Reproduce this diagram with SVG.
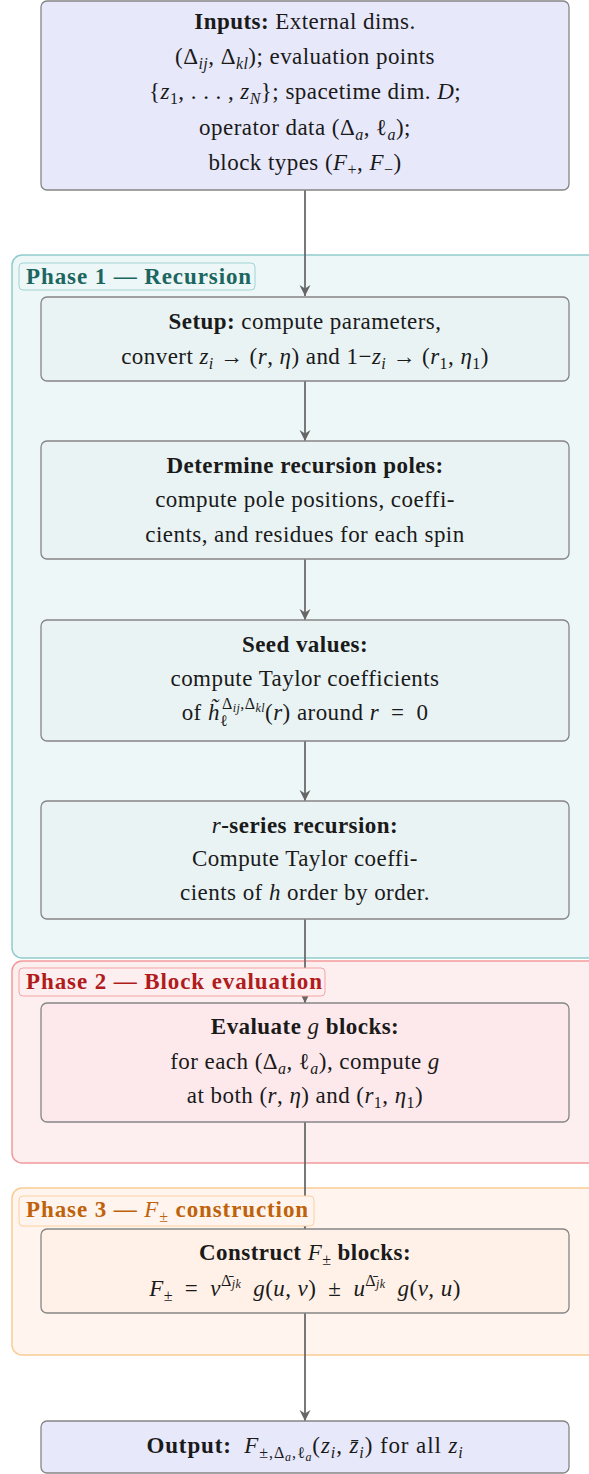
<svg xmlns="http://www.w3.org/2000/svg" width="589" height="1474" viewBox="0 0 589 1474" font-family="Liberation Serif, DejaVu Serif, serif">
<defs>
<marker id="ah" markerUnits="userSpaceOnUse" markerWidth="12" markerHeight="12" refX="11" refY="6" orient="auto">
<path d="M0,0.5 L11,6 L0,11.5 L3.5,6 z" fill="#666"/>
</marker>
<style>
text{font-family:'Liberation Serif','DejaVu Serif',serif;font-size:23px;fill:#1a1a1a;text-anchor:middle;letter-spacing:0.45px}
.b{font-weight:bold}
.i{font-style:italic}
.s{font-size:16px;font-style:italic}
.su{font-size:16px}
.ss{font-size:12px;font-style:italic}
.node{stroke:#858585;stroke-width:1.3}
.io{fill:#e8e8fb}
.p1n{fill:#e9f3f4}
.p2n{fill:#fde9ec}
.p3n{fill:#fff1e7}
.conn{stroke:#6a6a6a;stroke-width:1.8;fill:none}
.lab{font-size:23px;font-weight:bold;text-anchor:start;letter-spacing:0.9px}
</style>
</defs>

<g id="phase1">
<rect x="12" y="255" width="600" height="703" rx="10" fill="#eef7f7" stroke="#90cbcb" stroke-width="1.5"/>
</g>
<g id="phase2">
<rect x="12" y="961" width="600" height="202" rx="10" fill="#fdeef0" stroke="#f29a9a" stroke-width="1.5"/>
</g>
<g id="phase3">
<rect x="12" y="1188" width="600" height="167" rx="10" fill="#fff5ee" stroke="#f9cc94" stroke-width="1.5"/>
</g>

<g id="connectors">
<line class="conn" x1="305" y1="190" x2="305" y2="296" marker-end="url(#ah)"/>
<line class="conn" x1="305" y1="381" x2="305" y2="441" marker-end="url(#ah)"/>
<line class="conn" x1="305" y1="559" x2="305" y2="620" marker-end="url(#ah)"/>
<line class="conn" x1="305" y1="741" x2="305" y2="801" marker-end="url(#ah)"/>
<line class="conn" x1="305" y1="919" x2="305" y2="1003" marker-end="url(#ah)"/>
<line class="conn" x1="305" y1="1122" x2="305" y2="1229" marker-end="url(#ah)"/>
<line class="conn" x1="305" y1="1313" x2="305" y2="1421" marker-end="url(#ah)"/>
</g>

<g id="phase1-label">
<rect x="19" y="263" width="236" height="27" rx="4" fill="#eef7f7" stroke="#9fd4d4" stroke-width="1"/>
<text class="lab" x="26" y="284" style="fill:#1b6660">Phase 1 — Recursion</text>
</g>
<g id="phase2-label">
<rect x="19" y="968" width="306" height="28" rx="4" fill="#fdeef0" stroke="#f5a5a5" stroke-width="1"/>
<text class="lab" x="26" y="989" style="fill:#b01c1c">Phase 2 — Block evaluation</text>
</g>
<g id="phase3-label">
<rect x="19" y="1196" width="295" height="30" rx="4" fill="#fff5ee" stroke="#fad0a0" stroke-width="1"/>
<text class="lab" x="26" y="1217" style="fill:#c0620c">Phase 3 — <tspan class="i" style="font-weight:normal">F</tspan><tspan class="su" dy="5" style="font-weight:normal">±</tspan><tspan dy="-5"> construction</tspan></text>
</g>

<g id="inputs">
<rect class="node io" x="41" y="1" width="528" height="189" rx="6"/>
<text x="305" y="29"><tspan class="b">Inputs:</tspan> External dims.</text>
<text x="305" y="64">(Δ<tspan class="s" dy="5">ij</tspan><tspan dy="-5">, Δ</tspan><tspan class="s" dy="5">kl</tspan><tspan dy="-5">); evaluation points</tspan></text>
<text x="305" y="99">{<tspan class="i">z</tspan><tspan class="su" dy="5">1</tspan><tspan dy="-5">, . . . , </tspan><tspan class="i">z</tspan><tspan class="s" dy="5">N</tspan><tspan dy="-5">}; spacetime dim. </tspan><tspan class="i">D</tspan>;</text>
<text x="305" y="135">operator data (Δ<tspan class="s" dy="5">a</tspan><tspan dy="-5">, ℓ</tspan><tspan class="s" dy="5">a</tspan><tspan dy="-5">);</tspan></text>
<text x="305" y="170">block types (<tspan class="i">F</tspan><tspan class="su" dy="5">+</tspan><tspan dy="-5">, </tspan><tspan class="i">F</tspan><tspan class="su" dy="5">−</tspan><tspan dy="-5">)</tspan></text>
</g>

<g id="setup">
<rect class="node p1n" x="41" y="297" width="528" height="84" rx="6"/>
<text x="305" y="329"><tspan class="b">Setup:</tspan> compute parameters,</text>
<text x="305" y="364">convert <tspan class="i">z</tspan><tspan class="s" dy="5">i</tspan><tspan dy="-5"> → (</tspan><tspan class="i">r</tspan>, <tspan class="i">η</tspan>) and 1−<tspan class="i">z</tspan><tspan class="s" dy="5">i</tspan><tspan dy="-5"> → (</tspan><tspan class="i">r</tspan><tspan class="su" dy="5">1</tspan><tspan dy="-5">, </tspan><tspan class="i">η</tspan><tspan class="su" dy="5">1</tspan><tspan dy="-5">)</tspan></text>
</g>

<g id="poles">
<rect class="node p1n" x="41" y="441" width="528" height="118" rx="6"/>
<text x="305" y="473" class="b">Determine recursion poles:</text>
<text x="305" y="507">compute pole positions, coeffi-</text>
<text x="305" y="542">cients, and residues for each spin</text>
</g>

<g id="seed">
<rect class="node p1n" x="41" y="620" width="528" height="121" rx="6"/>
<text x="305" y="652" class="b">Seed values:</text>
<text x="305" y="686">compute Taylor coefficients</text>
<text x="305" y="720">of <tspan class="i">h̃</tspan><tspan class="su" dy="6">ℓ</tspan><tspan class="su" dx="-6" dy="-17">Δ</tspan><tspan class="ss" dy="3">ij</tspan><tspan class="su" dy="-3">,Δ</tspan><tspan class="ss" dy="3">kl</tspan><tspan dy="8">(</tspan><tspan class="i">r</tspan>) around <tspan class="i">r</tspan>&#8194;=&#8194;0</text>
</g>

<g id="rseries">
<rect class="node p1n" x="41" y="801" width="528" height="118" rx="6"/>
<text x="305" y="833"><tspan class="i">r</tspan><tspan class="b">-series recursion:</tspan></text>
<text x="305" y="866">Compute Taylor coeffi-</text>
<text x="305" y="900">cients of <tspan class="i">h</tspan> order by order.</text>
</g>

<g id="evaluate">
<rect class="node p2n" x="41" y="1003" width="528" height="119" rx="6"/>
<text x="305" y="1034"><tspan class="b">Evaluate </tspan><tspan class="i">g</tspan><tspan class="b"> blocks:</tspan></text>
<text x="305" y="1069">for each (Δ<tspan class="s" dy="5">a</tspan><tspan dy="-5">, ℓ</tspan><tspan class="s" dy="5">a</tspan><tspan dy="-5">), compute </tspan><tspan class="i">g</tspan></text>
<text x="305" y="1103">at both (<tspan class="i">r</tspan>, <tspan class="i">η</tspan>) and (<tspan class="i">r</tspan><tspan class="su" dy="5">1</tspan><tspan dy="-5">, </tspan><tspan class="i">η</tspan><tspan class="su" dy="5">1</tspan><tspan dy="-5">)</tspan></text>
</g>

<g id="construct">
<rect class="node p3n" x="41" y="1229" width="528" height="84" rx="6"/>
<text x="305" y="1260"><tspan class="b">Construct </tspan><tspan class="i">F</tspan><tspan class="su" dy="5">±</tspan><tspan class="b" dy="-5"> blocks:</tspan></text>
<text x="305" y="1296"><tspan class="i">F</tspan><tspan class="su" dy="5">±</tspan><tspan dy="-5">&#8194;=&#8194;</tspan><tspan class="i">v</tspan><tspan class="su" dy="-10">Δ̄</tspan><tspan class="ss" dy="2">jk</tspan><tspan dy="8">&#8194;</tspan><tspan class="i">g</tspan>(<tspan class="i">u</tspan>, <tspan class="i">v</tspan>)&#8194;±&#8194;<tspan class="i">u</tspan><tspan class="su" dy="-10">Δ̄</tspan><tspan class="ss" dy="2">jk</tspan><tspan dy="8">&#8194;</tspan><tspan class="i">g</tspan>(<tspan class="i">v</tspan>, <tspan class="i">u</tspan>)</text>
</g>

<g id="output">
<rect class="node io" x="41" y="1421" width="528" height="52" rx="6"/>
<text x="305" y="1453" style="letter-spacing:0.9px"><tspan class="b">Output:</tspan>&#8194;<tspan class="i">F</tspan><tspan class="su" dy="5">±,Δ</tspan><tspan class="ss" dy="3">a</tspan><tspan class="su" dy="-3">,ℓ</tspan><tspan class="ss" dy="3">a</tspan><tspan dy="-8">(</tspan><tspan class="i">z</tspan><tspan class="s" dy="5">i</tspan><tspan dy="-5">, </tspan><tspan class="i">z̄</tspan><tspan class="s" dy="5">i</tspan><tspan dy="-5">) for all </tspan><tspan class="i">z</tspan><tspan class="s" dy="5">i</tspan></text>
</g>
</svg>
